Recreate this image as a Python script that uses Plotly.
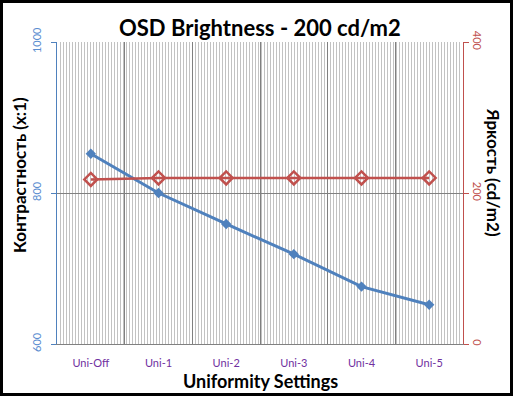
import plotly.graph_objects as go

categories = ["Uni-Off", "Uni-1", "Uni-2", "Uni-3", "Uni-4", "Uni-5"]
contrast = [852, 800, 759, 719, 676, 652]
brightness = [218, 220, 220, 220, 220, 220]

BLUE = "#4F81BD"
RED = "#C0504D"
FONT = "Lato"

fig = go.Figure()
# invisible helper trace so the striped background axis gets a subplot
fig.add_trace(go.Scatter(x=[None], y=[None], xaxis="x", yaxis="y", mode="lines",
                         hoverinfo="skip", showlegend=False))
fig.add_trace(go.Scatter(
    x=categories, y=contrast, xaxis="x2", yaxis="y", mode="lines+markers",
    line=dict(color=BLUE, width=3), marker=dict(symbol="diamond", size=8, color=BLUE),
    name="Контрастность"))
fig.add_trace(go.Scatter(
    x=categories, y=brightness, xaxis="x2", yaxis="y2", mode="lines+markers",
    line=dict(color=RED, width=2.5),
    marker=dict(symbol="diamond-open", size=10, color=RED, line=dict(width=2.5, color=RED)),
    name="Яркость"))

fig.update_layout(
    width=513, height=396,
    margin=dict(l=57, r=50, t=42, b=52),
    paper_bgcolor="white", plot_bgcolor="white",
    showlegend=False,
    font=dict(family=FONT),
    xaxis=dict(type="linear", range=[0, 135], dtick=1, showgrid=True,
               gridcolor="#c2c2c2", gridwidth=1, showticklabels=False,
               ticks="", zeroline=False, showline=False, anchor="y"),
    xaxis2=dict(type="category", overlaying="x", anchor="y", range=[-0.5, 5.5],
                tickson="boundaries", showgrid=True, gridcolor="#808080", gridwidth=1,
                ticks="", showline=True, linecolor="#808080", linewidth=1,
                ticklabelstandoff=9,
                tickfont=dict(family=FONT, size=11, color="#7030A0"),
                categoryorder="array", categoryarray=categories),
    xaxis3=dict(type="category", overlaying="x", anchor="y", range=[-0.5, 5.5],
                categoryorder="array", categoryarray=categories,
                showgrid=False, showticklabels=False, ticks="inside", ticklen=4,
                tickcolor="#808080", showline=False),
    yaxis=dict(range=[600, 1000], dtick=200, showgrid=True, gridcolor="#808080",
               zeroline=False, showline=True, linecolor=BLUE, linewidth=1,
               ticks="outside", ticklen=5, tickcolor=BLUE, tickangle=-90,
               tickfont=dict(family=FONT, size=11, color="#5B8DD0"), ticklabelstandoff=6),
    yaxis2=dict(range=[0, 400], dtick=200, overlaying="y", side="right", anchor="x",
                showgrid=False, zeroline=False, showline=True, linecolor=RED, linewidth=1,
                ticks="outside", ticklen=5, tickcolor=RED, tickangle=90,
                tickfont=dict(family=FONT, size=11, color=RED)),
    annotations=[
        dict(text="<b>OSD Brightness - 200 cd/m2</b>", x=0.5, y=(344 - 27) / 302,
             xref="paper", yref="paper", yanchor="middle", showarrow=False,
             font=dict(family=FONT, size=22, color="black")),
        dict(text="<b>Uniformity Settings</b>", x=(260 - 57) / 406, xref="paper",
             y=-(381 - 344) / 302, yref="paper", yanchor="middle", showarrow=False,
             font=dict(family=FONT, size=18, color="black")),
        dict(text="<b>Контрастность (x:1)</b>", textangle=-90, x=-(57 - 19) / 406,
             xref="paper", y=(344 - 175) / 302, yref="paper", xanchor="center",
             yanchor="middle", showarrow=False,
             font=dict(family=FONT, size=17, color="black")),
        dict(text="<b>Яркость (cd/m2)</b>", textangle=90, x=(494 - 57) / 406,
             xref="paper", y=(344 - 172) / 302, yref="paper", xanchor="center",
             yanchor="middle", showarrow=False,
             font=dict(family=FONT, size=17, color="black")),
    ],
)

fig.add_shape(type="rect", xref="paper", yref="paper",
              x0=-(57 - 1.5) / 406, x1=(511.5 - 57) / 406,
              y0=-(394.5 - 344) / 302, y1=(344 - 1.5) / 302,
              line=dict(color="black", width=3), fillcolor="rgba(0,0,0,0)")

fig.write_html("out.html", config={"displayModeBar": False},
               post_script="document.body.style.margin='0';document.body.style.overflow='hidden';")
